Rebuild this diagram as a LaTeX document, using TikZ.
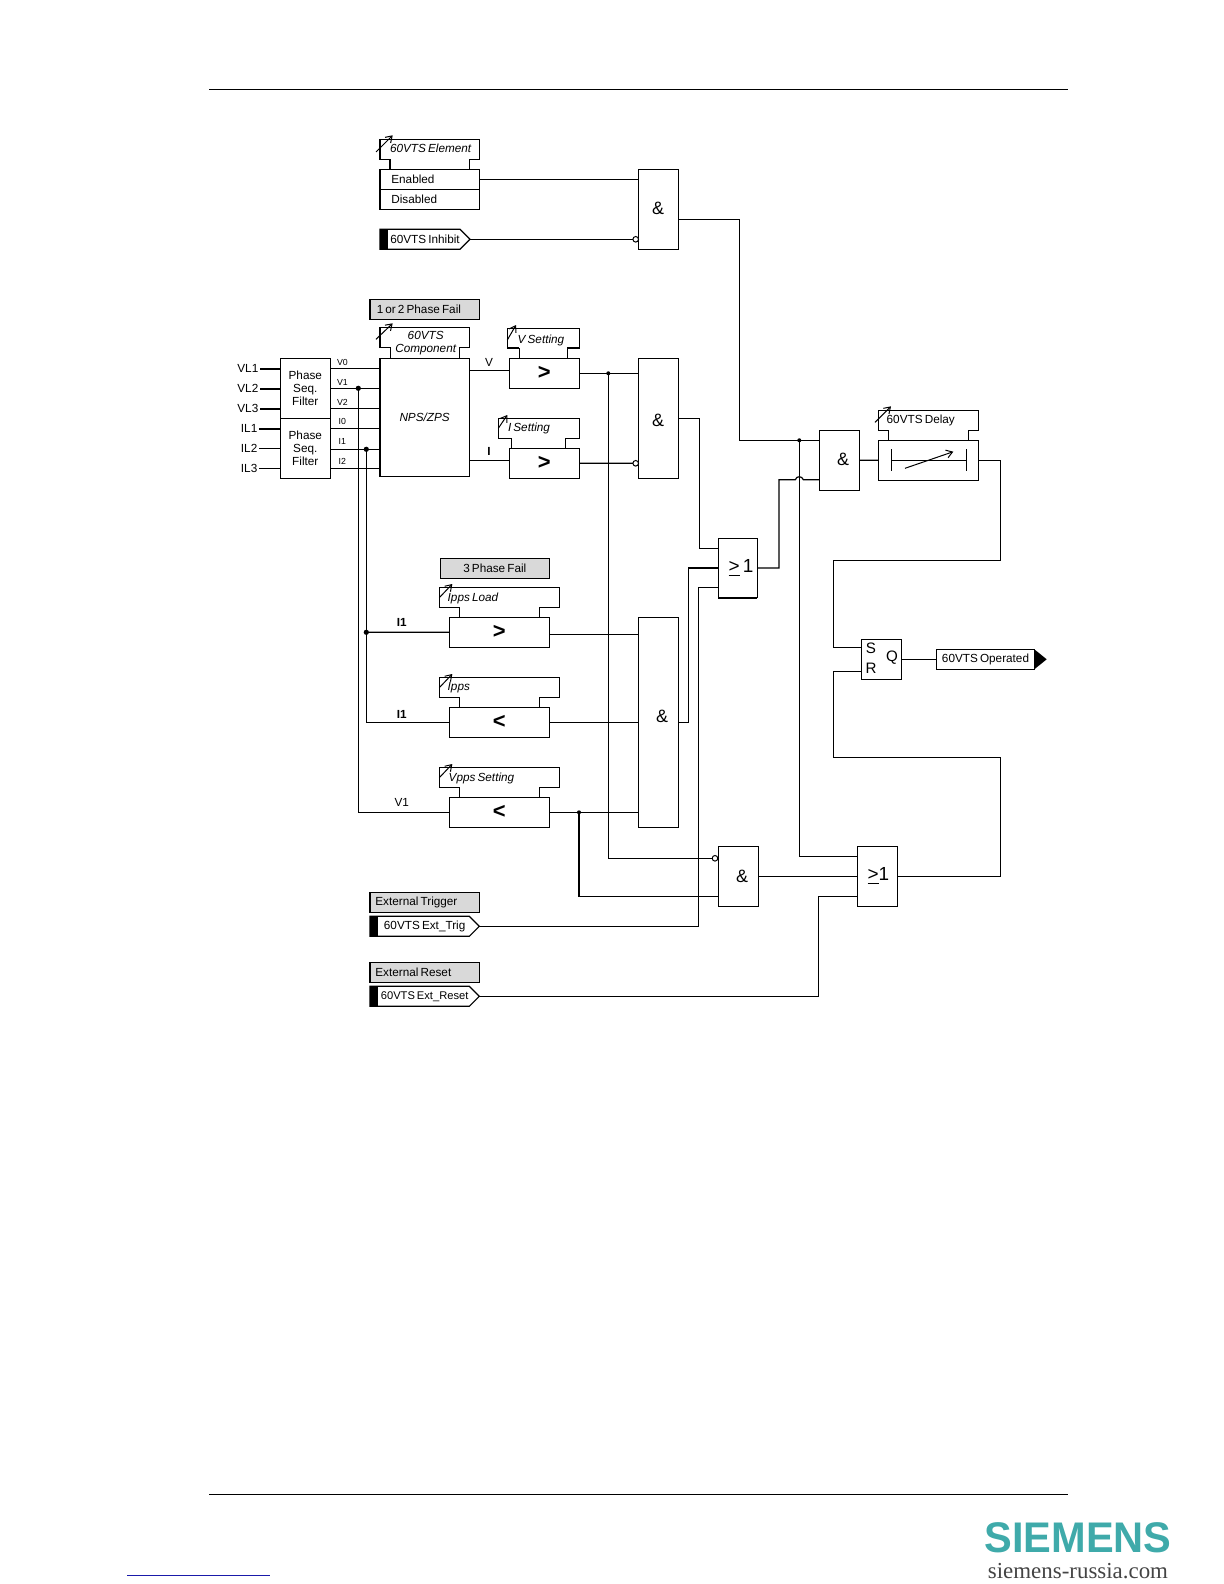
\documentclass[tikz,border=0pt]{standalone}
\usepackage{fontspec}
\setmainfont{Liberation Sans}
\newfontfamily\sitefont{Liberation Serif}
\definecolor{RelayGray}{HTML}{D9D9D9}
\definecolor{SiemensTeal}{HTML}{3FAAAA}
\definecolor{SiteGray}{HTML}{444444}
\definecolor{LinkBlue}{HTML}{1A1AAA}
\usetikzlibrary{arrows.meta,calc,shapes.symbols}
\newcommand{\settab}[5]{\draw[wire] (#4,#3+30) -- (#4,#3+20) -- (#1,#3+20) -- (#1,#3) -- (#2,#3) -- (#2,#3+20) -- (#5,#3+20) -- (#5,#3+30);}
\newcommand{\tagtext}[1]{\hspace*{2.5bp}#1\hspace*{-2.5bp}}
\newcommand{\narrowgap}{\spaceskip=0.18em\relax}

\begin{document}
\begin{tikzpicture}[x=0.5bp,y=-0.5bp,
      every node/.style={font=\fontsize{5.9}{6.7}\selectfont\narrowgap,inner sep=0pt,outer sep=0pt},
      wire/.style={line width=0.6pt,draw=black},
      busbar/.style={line width=1.1pt,draw=black},
      tune/.style={line width=0.5pt,-{Straight Barb[length=3pt,width=4pt]}},
      gate/.style={draw,line width=0.6pt,anchor=north west,align=center},
      rowbox/.style={gate,minimum height=10bp,text width=38.3bp,inner xsep=5.65bp,align=flush left,minimum width=49.65bp},
      greybox/.style={gate,fill=RelayGray,minimum height=10bp,minimum width=54.65bp},
      cmpbox/.style={gate,minimum height=15bp,font=\fontsize{11}{11}\selectfont\bfseries},
      sigtag/.style={draw,line width=0.6pt,shape=signal,signal to=east,signal from=nowhere,
                     minimum height=10bp,anchor=west,
                     path picture={\fill[black] (path picture bounding box.south west) rectangle
                       ([xshift=4bp]path picture bounding box.north west);}},
      notdot/.style={draw,circle,line width=0.5pt,fill=white,minimum size=2.8bp},
      bigdot/.style={fill=black,circle,minimum size=2.6bp},
      smalldot/.style={fill=black,circle,minimum size=2bp},
      gatesym/.style={font=\fontsize{9}{9}\selectfont},
      orsym/.style={font=\fontsize{9.5}{9.5}\selectfont},
      srsym/.style={font=\fontsize{7.6}{7.6}\selectfont},
      tiny/.style={font=\fontsize{4.4}{5}\selectfont},
      tabtext/.style={anchor=west,font=\fontsize{5.9}{6.7}\selectfont\itshape\narrowgap}]
    \useasboundingbox (0,0) rectangle (1224,1584);
    \draw[line width=0.5pt] (209,89) -- (1068,89);
    \draw[line width=0.5pt] (209,1494) -- (1068,1494);
    \draw[line width=0.5pt,draw=LinkBlue] (127,1575) -- (270,1575);
    \node[font=\fontsize{21.5}{21.5}\selectfont\bfseries,text=SiemensTeal,xscale=0.97] (logo) at (1078,1538) {SIEMENS};
    \node[font=\fontsize{11.5}{12}\selectfont\sitefont,text=SiteGray] (site) at (1078,1571) {siemens-russia.com};

    \settab{380}{479.3}{139.3}{390}{469.3}
    \draw[tune] (376,152) -- (392.7,135.3);
    \node[tabtext] (tabelement) at (390,148.3) {60VTS Element};
    \node[rowbox] (enabled) at (380,169.3) {Enabled};
    \node[rowbox] (disabled) at (380,189.3) {Disabled};
    \node[sigtag,minimum width=45bp] (inhibit) at (380,239.3) {\tagtext{60VTS Inhibit}};
    \node[gate,minimum width=20bp,minimum height=40bp] (gateen) at (638.3,169.3) {};
    \node[gatesym] (ampen) at (658,208) {\&};
    \node[notdot] (notinhibit) at (635.7,239.3) {};
    \draw[wire] (enabled.east) -- (enabled.east -| gateen.west);
    \draw[wire] (inhibit.east) -- (notinhibit.west);

    \node[greybox,text width=47.9bp,inner xsep=3.35bp,align=flush left] (failone) at (370,299.3) {1 or 2 Phase Fail};
    \settab{380}{469.3}{327.7}{390.7}{459.3}
    \draw[tune] (376,339.3) -- (392.7,323.3);
    \node[font=\fontsize{5.9}{6.7}\selectfont\itshape,align=center] (tabcomp) at (425.7,343) {60VTS\\Component};
    \node[gate,minimum width=44.65bp,minimum height=59bp,font=\fontsize{5.9}{6.7}\selectfont\itshape] (nps) at (380,358.3) {NPS/ZPS};
    \node[gate,minimum width=25bp,minimum height=30bp] (filtv) at (280.3,358.3) {Phase\\Seq.\\Filter};
    \node[gate,minimum width=25bp,minimum height=30bp] (filti) at (280.3,418.3) {Phase\\Seq.\\Filter};

    \node[anchor=east] (vlone) at (258.3,368.7) {VL1};
    \node[anchor=east] (vltwo) at (258.3,388.7) {VL2};
    \node[anchor=east] (vlthree) at (258.3,408.7) {VL3};
    \node[anchor=east] (ilone) at (257.3,428.7) {IL1};
    \node[anchor=east] (iltwo) at (257.3,448.3) {IL2};
    \node[anchor=east] (ilthree) at (257.3,468.3) {IL3};
    \draw[busbar] ([xshift=1bp]vlone.east) -- (vlone.east -| filtv.west);
    \draw[busbar] ([xshift=1bp]vltwo.east) -- (vltwo.east -| filtv.west);
    \draw[busbar] ([xshift=1bp]vlthree.east) -- (vlthree.east -| filtv.west);
    \draw[busbar] ([xshift=1bp]ilone.east) -- (ilone.east -| filti.west);
    \draw[wire] ([xshift=1bp]iltwo.east) -- (iltwo.east -| filti.west);
    \draw[wire] ([xshift=1bp]ilthree.east) -- (ilthree.east -| filti.west);

    \coordinate (vzero) at ($(filtv.north east)+(0,10)$);
    \coordinate (vpin) at ($(filtv.north east)+(0,30)$);
    \coordinate (vtwo) at ($(filtv.north east)+(0,50)$);
    \coordinate (izero) at ($(filti.north east)+(0,10)$);
    \coordinate (ipin) at ($(filti.north east)+(0,31)$);
    \coordinate (itwo) at ($(filti.north east)+(0,50)$);
    \draw[wire] (vzero) -- (vzero -| nps.west);
    \draw[wire] (vpin) -- (vpin -| nps.west);
    \draw[wire] (vtwo) -- (vtwo -| nps.west);
    \draw[wire] (izero) -- (izero -| nps.west);
    \draw[wire] (ipin) -- (ipin -| nps.west);
    \draw[wire] (itwo) -- (itwo -| nps.west);
    \node[tiny,anchor=west] (lblvzero) at (337,362.3) {V0};
    \node[tiny,anchor=west] (lblvone) at (337,382.3) {V1};
    \node[tiny,anchor=west] (lblvtwo) at (337,402.3) {V2};
    \node[tiny,anchor=west] (lblizero) at (338.7,421.7) {I0};
    \node[tiny,anchor=west] (lblione) at (338.7,441) {I1};
    \node[tiny,anchor=west] (lblitwo) at (338.7,461) {I2};
    \node[bigdot] (jvone) at (358.3,388.3) {};
    \node[bigdot] (jione) at (366.3,449.3) {};

    \settab{507.3}{579.3}{328.3}{519.3}{567.3}
    \draw[busbar] (507.3,348.3) -- (519.3,348.3);
    \draw[busbar] (567.3,348.3) -- (579.3,348.3);
    \draw[tune] (507.3,340) -- (516,325);
    \node[tabtext] (tabvset) at (517.7,340) {V Setting};
    \settab{498.3}{579.3}{418.3}{511.7}{565.3}
    \draw[tune] (498.3,428.3) -- (507.3,415);
    \node[tabtext] (tabiset) at (508,428.7) {I Setting};
    \node[cmpbox,minimum width=35bp] (vcmp) at (509.3,358.3) {>};
    \node[cmpbox,minimum width=35bp] (icmp) at (509.3,448.3) {>};
    \coordinate (vin) at ($(vcmp.north west)+(0,12)$);
    \coordinate (iin) at ($(icmp.north west)+(0,12)$);
    \draw[wire] (nps.east |- vin) -- (vin);
    \draw[wire] (nps.east |- iin) -- (iin);
    \node (lblv) at (489,362) {V};
    \node[font=\fontsize{5.9}{6.7}\selectfont\bfseries] (lbli) at (489,451) {I};
    \node[gate,minimum width=20bp,minimum height=60bp] (gatepf) at (638.3,358.3) {};
    \node[gatesym] (amppf) at (658,420) {\&};
    \node[notdot] (notpf) at (635.7,463.3) {};
    \node[smalldot] (jvset) at (608.3,373.3) {};
    \draw[wire] (vcmp.east) -- (vcmp.east -| gatepf.west);
    \draw[wire] (icmp.east) -- (notpf.west);

    \node[greybox,minimum width=54.5bp] (failthree) at (440.3,558.3) {3 Phase Fail};
    \settab{439.3}{559.3}{587.3}{459.3}{539.3}
    \draw[tune] (439.3,597.7) -- (452.3,584);
    \node[tabtext] (tabload) at (447.7,598.5) {Ipps Load};
    \settab{439.3}{559.3}{677.3}{459.3}{539.3}
    \draw[tune] (439.3,687.7) -- (452.3,674);
    \node[tabtext] (tabipps) at (447.7,687.5) {Ipps};
    \settab{439.3}{559.3}{767.3}{459.3}{539.3}
    \draw[tune] (439.3,777.7) -- (452.3,764);
    \node[tabtext] (tabvpps) at (448.7,778.5) {Vpps Setting};
    \node[cmpbox,minimum width=50bp] (ippsload) at (449.3,617.3) {>};
    \node[cmpbox,minimum width=50bp] (ippscmp) at (449.3,707.3) {<};
    \node[cmpbox,minimum width=50bp] (vppscmp) at (449.3,797.3) {<};
    \node[font=\fontsize{5.9}{6.7}\selectfont\bfseries] (lblload) at (401.7,622.3) {I1};
    \node[font=\fontsize{5.9}{6.7}\selectfont\bfseries] (lblipps) at (401.7,714) {I1};
    \node (lblvpps) at (401.7,802.3) {V1};
    \node[bigdot] (jload) at (366.3,632.3) {};
    \draw[wire] (jvone.center) |- (vppscmp.west);
    \draw[wire] (jione.center) |- (ippscmp.west);
    \draw[wire] (jload.center) -- (ippsload.west);
    \node[gate,minimum width=20.2bp,minimum height=105bp] (gatepps) at (638.3,617.3) {};
    \node[gatesym] (amppps) at (662,716) {\&};
    \coordinate (loadout) at ($(ippsload.north east)+(0,17)$);
    \draw[wire] (loadout) -- (loadout -| gatepps.west);
    \draw[wire] (ippscmp.east) -- (ippscmp.east -| gatepps.west);
    \draw[wire] (vppscmp.east) -- (vppscmp.east -| gatepps.west);

    \node[gate,minimum width=19.5bp,minimum height=29.7bp] (orone) at (718.3,538.3) {};
    \node[orsym] (symone) at (741,568.3) {\underline{>}\,1};
    \draw[busbar] (orone.south west) -- (orone.south east);
    \draw[wire] (gatepf.east) -- ++(21,0) |- ($(orone.north west)+(0,10)$);
    \draw[wire] (gatepps.east) -- ++(9.6,0) |- (orone.west);

    \node[gate,minimum width=20.2bp,minimum height=30bp] (gatesix) at (718.3,846.3) {};
    \node[gatesym] (ampsix) at (742,876) {\&};
    \node[notdot] (notsix) at (715,858.3) {};
    \node[smalldot] (jvpps) at (579,812.3) {};
    \draw[wire] (jvset.center) |- (notsix.west);
    \draw[wire] (jvpps.center) |- ($(gatesix.south west)+(0,-10)$);

    \node[greybox,text width=49.3bp,inner xsep=2.65bp,align=flush left] (exttrigname) at (370,892.3) {External Trigger};
    \node[sigtag,minimum width=54.65bp] (exttrig) at (370,926.3) {\tagtext{60VTS Ext\_Trig}};
    \node[greybox,text width=49.3bp,inner xsep=2.65bp,align=flush left] (extresetname) at (370,962.3) {External Reset};
    \node[sigtag,minimum width=54.65bp,font=\fontsize{5.6}{6.7}\selectfont\narrowgap] (extreset) at (370,996.3) {\tagtext{60VTS Ext\_Reset}};
    \draw[wire] (exttrig.east) -- ++(219,0) |- ($(orone.north west)+(0,49)$);

    \node[gate,minimum width=20.2bp,minimum height=30bp] (ortwo) at (857.3,846.3) {};
    \node[orsym] (symtwo) at (878.3,876) {\underline{>}1};
    \draw[wire] (gatesix.east) -- (ortwo.west);
    \draw[wire] (extreset.east) -- ++(339,0) |- ($(ortwo.south west)+(0,-10)$);

    \node[gate,minimum width=20bp,minimum height=30bp] (gatetop) at (819.3,430.3) {};
    \node[gatesym] (amptop) at (843,459) {\&};
    \node[smalldot] (jtop) at (799.3,440.3) {};
    \draw[wire] ($(gateen.north east)+(0,50)$) -- ++(61,0) |- ($(gatetop.north west)+(0,10)$);
    \draw[wire] (jtop.center) |- ($(ortwo.north west)+(0,10)$);
    \coordinate (jumpin) at ($(gatetop.north west)+(-24,49.4)$);
    \coordinate (jumpout) at ($(gatetop.north west)+(-16,49.4)$);
    \draw[wire] (orone.east) -- ++(21.6,0) |- (jumpin) .. controls (796.5,475.7) and (802.1,475.7) .. (jumpout) -- (jumpout -| gatetop.west);

    \settab{878.3}{978.3}{410.3}{888.3}{968.3}
    \draw[tune] (875,422.3) -- (891,406.3);
    \node[anchor=west] (tabdelay) at (886.7,420.3) {60VTS Delay};
    \node[gate,minimum width=50bp,minimum height=20bp] (delay) at (878.3,440.3) {};
    \draw[line width=0.5pt] ($(delay.center)+(-37.3,-11)$) -- ++(0,22);
    \draw[line width=0.5pt] ($(delay.center)+(37.7,-11)$) -- ++(0,22);
    \draw[line width=0.5pt] ($(delay.center)+(-37.3,0)$) -- ($(delay.center)+(37.7,0)$);
    \draw[tune] ($(delay.center)+(-23.3,8)$) -- ($(delay.center)+(25,-8.6)$);
    \draw[wire] (gatetop.east) -- (delay.west);

    \node[gate,minimum width=20bp,minimum height=20bp] (srff) at (861.3,639.3) {};
    \node[srsym] (srs) at (871,648) {S};
    \node[srsym] (srr) at (871,668) {R};
    \node[srsym] (srq) at (892,658) {Q};
    \draw[wire] (delay.east) -- ++(22,0) -- ++(0,100) -- ++(-167,0) |- ($(srff.north west)+(0,8)$);
    \draw[wire] (ortwo.east) -- ++(102.6,0) -- ++(0,-119) -- ++(-167,0) |- ($(srff.north west)+(0,32)$);

    \node[gate,minimum width=48.8bp,minimum height=10bp] (opbox) at (936.7,649.3) {60VTS Operated};
    \draw[wire] (srff.east) -- (srff.east -| opbox.west);
    \fill[black] (opbox.north east) -- ++(12.4,10) -- (opbox.south east) -- cycle;
  \end{tikzpicture}
\end{document}
